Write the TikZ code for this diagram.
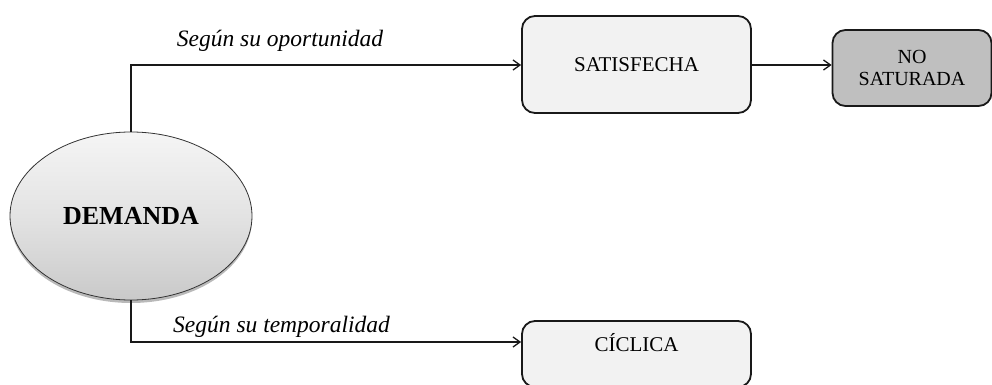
\documentclass[tikz,border=0pt]{standalone}
\usepackage{fontspec}
\setmainfont{Liberation Serif}
\usetikzlibrary{arrows.meta,shadows,shapes.geometric}

\tikzset{
  conn/.style={line width=1.4pt, draw=black!90, -{Straight Barb[length=7pt,width=10pt,line width=1.3pt]}},
  leaf/.style={draw=black!90, line width=1.8pt, rounded corners=13pt, fill=gray!10,
    font=\fontsize{21}{22}\selectfont, align=center, inner sep=0pt},
  dark/.style={leaf, fill=gray!50, font=\fontsize{20}{22}\selectfont},
  lbl/.style={font=\fontsize{23.5}{25}\selectfont\itshape, inner sep=0pt},
}

\begin{document}
\begin{tikzpicture}[x=1pt,y=-1pt]
  \useasboundingbox (0,0) rectangle (992,385);

  % root ellipse
  \node (dem) [ellipse, draw=black!80, line width=0.8pt, minimum width=242pt, minimum height=168pt,
      top color=gray!8, bottom color=gray!42, middle color=gray!22,
      drop shadow={opacity=0.55, shadow xshift=0pt, shadow yshift=-3pt},
      font=\fontsize{26}{28}\selectfont\bfseries, inner sep=0pt] at (131,216) {DEMANDA};

  % target boxes
  \node (sat) [leaf, minimum width=229pt, minimum height=97pt] at (636.5,64.5) {SATISFECHA};
  \node (nos) [dark, minimum width=159pt, minimum height=76pt] at (912,68) {NO\\SATURADA};
  \node (cic) [leaf, minimum width=229pt, minimum height=66pt] at (636.5,354) {};
  \node (cictxt) [font=\fontsize{21}{22}\selectfont, inner sep=0pt] at (636.5,342.5) {CÍCLICA};

  % branch labels
  \node (l1) [lbl, anchor=base] at (280,47) {Según su oportunidad};
  \node (l2) [lbl, anchor=base west] at (173,332) {Según su temporalidad};

  % connectors
  \coordinate (up) at (131,65);
  \coordinate (down) at (131,342);
  \draw[conn] (dem.north) -- (up) -- (up -| sat.west);
  \draw[conn] (dem.south) -- (down) -- (down -| cic.west);
  \draw[conn] (sat.east |- up) -- (nos.west |- up);
\end{tikzpicture}
\end{document}
